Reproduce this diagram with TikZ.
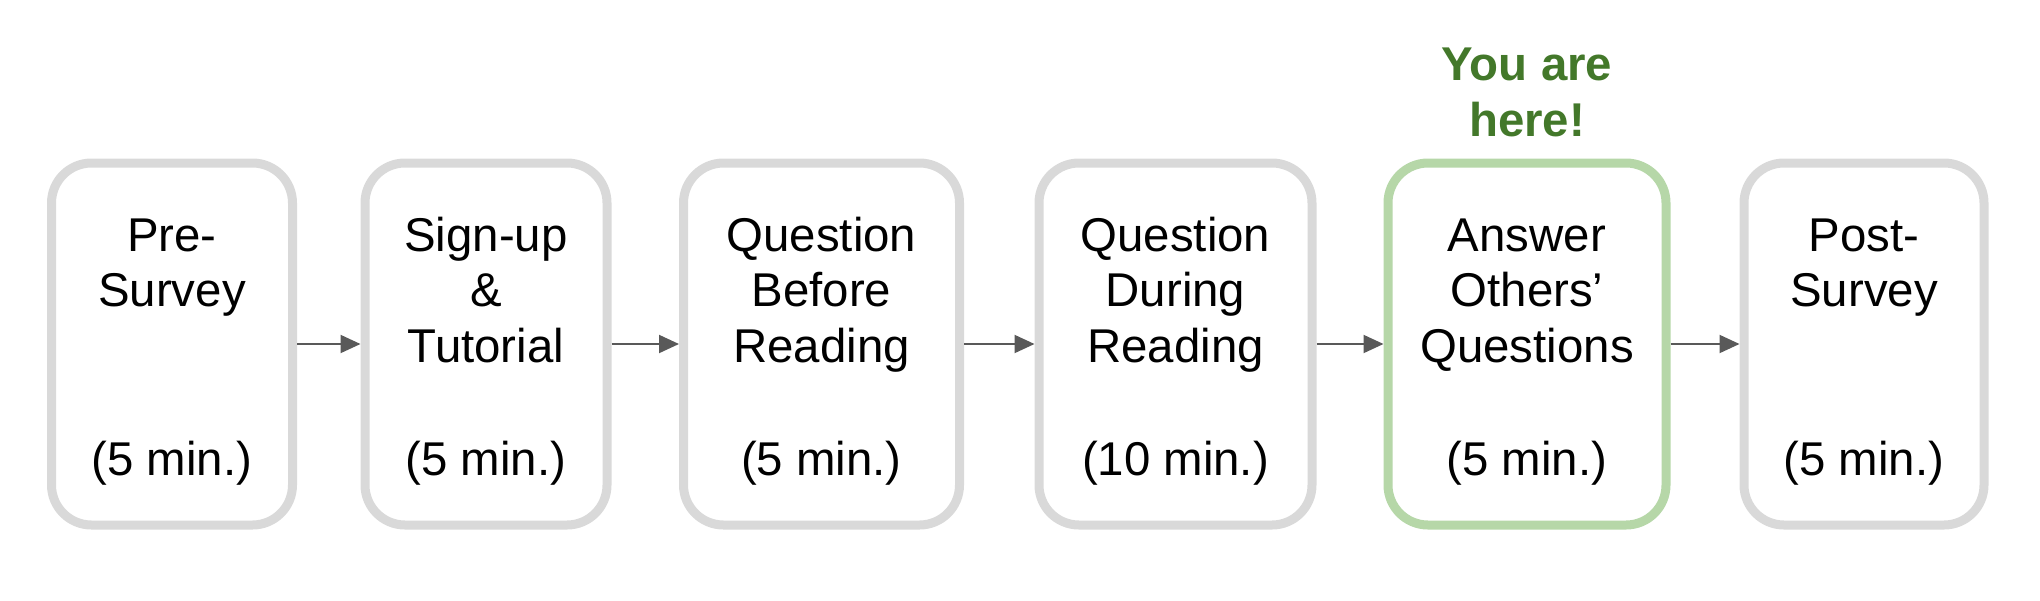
\documentclass[tikz,border=0pt]{standalone}
\usepackage{fontspec}
\setmainfont{Liberation Sans}
\usetikzlibrary{arrows.meta}
\definecolor{boxgray}{HTML}{D9D9D9}
\definecolor{boxgreen}{HTML}{B6D7A8}
\definecolor{heregreen}{HTML}{43782A}
\definecolor{arrowgray}{HTML}{595959}
\begin{document}
\begin{tikzpicture}[x=0.5pt,y=-0.5pt,
  stagebox/.style={draw=boxgray, line width=4.5pt, rounded corners=20pt, inner sep=0pt, minimum height=181pt, fill=white},
  curbox/.style={stagebox, draw=boxgreen},
  titletext/.style={anchor=base, align=center, inner sep=0pt, font=\fontsize{23.7}{27.75}\selectfont},
  durtext/.style={anchor=base, inner sep=0pt, font=\fontsize{23.7}{27.75}\selectfont},
  heretext/.style={anchor=base, align=center, inner sep=0pt, text=heregreen, font=\fontsize{23.7}{27.75}\selectfont\bfseries},
  flow/.style={draw=arrowgray, line width=1pt, -{Triangle[length=10pt,width=9pt]}}
]
\useasboundingbox (0,0) rectangle (2040,600);
\node[stagebox, minimum width=120.5pt] (b1) at (172,344) {};
\node[stagebox, minimum width=121pt]   (b2) at (486,344) {};
\node[stagebox, minimum width=138pt]   (b3) at (821.5,344) {};
\node[stagebox, minimum width=136.5pt] (b4) at (1175.5,344) {};
\node[curbox,   minimum width=139pt]   (b5) at (1527,344) {};
\node[stagebox, minimum width=120pt]   (b6) at (1864,344) {};

% base anchor of a multi-line node is the baseline of its last line
\node[titletext] (t1) at (172,306.5) {Pre-\\Survey};
\node[titletext] (t2) at (486,362) {Sign-up\\\&\\Tutorial};
\node[titletext] (t3) at (821.5,362) {Question\\Before\\Reading};
\node[titletext] (t4) at (1175.5,362) {Question\\During\\Reading};
\node[titletext] (t5) at (1527,362) {Answer\\Others’\\Questions};
\node[titletext] (t6) at (1864,306.5) {Post-\\Survey};

\node[durtext] (d1) at (172,475) {(5 min.)};
\node[durtext] (d2) at (486,475) {(5 min.)};
\node[durtext] (d3) at (821.5,475) {(5 min.)};
\node[durtext] (d4) at (1175.5,475) {(10 min.)};
\node[durtext] (d5) at (1527,475) {(5 min.)};
\node[durtext] (d6) at (1864,475) {(5 min.)};

\node[heretext] (here) at (1527,136) {You are\\here!};

\draw[flow] (b1) -- (b2);
\draw[flow] (b2) -- (b3);
\draw[flow] (b3) -- (b4);
\draw[flow] (b4) -- (b5);
\draw[flow] (b5) -- (b6);
\end{tikzpicture}
\end{document}
